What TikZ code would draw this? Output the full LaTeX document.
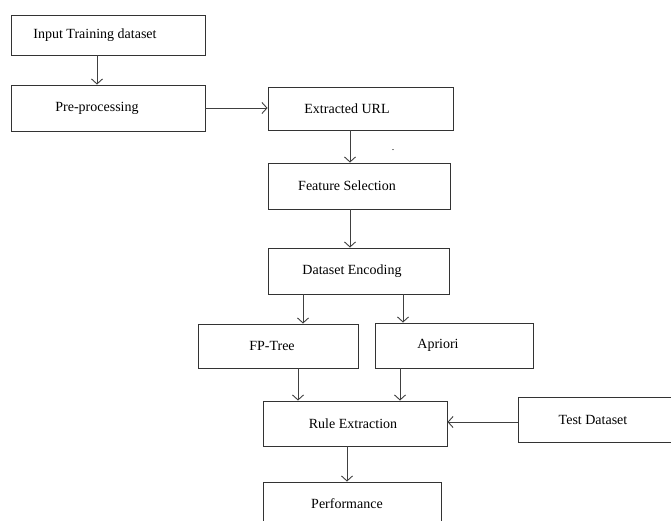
\documentclass[tikz,border=0pt]{standalone}
\usepackage{fontspec}
\setmainfont{Liberation Serif}
\usetikzlibrary{arrows.meta}
\tikzset{
  blk/.style={draw=black!80, line width=0.9pt, inner sep=0pt, font=\fontsize{14}{16}\selectfont},
  arr/.style={draw=black!75, line width=0.9pt, -{Straight Barb[length=5pt,width=11pt]}}
}
% text set a little left of the box centre
\newcommand{\lft}[2]{#2\hspace*{#1}}

\begin{document}
\begin{tikzpicture}[x=1pt,y=-1pt]
    \clip (0,0) rectangle (671,520);
    \fill[white] (0,0) rectangle (671,520);
    %boxes
    \node[blk, minimum width=194pt, minimum height=40pt] (input) at (108,35) {\lft{26pt}{Input Training dataset}};
    \node[blk, minimum width=194pt, minimum height=46pt] (pre) at (108,108) {\lft{22pt}{Pre-processing}};
    \node[blk, minimum width=185pt, minimum height=43pt] (url) at (360.5,108.5) {\lft{27pt}{Extracted URL}};
    \node[blk, minimum width=182pt, minimum height=46pt] (feat) at (359,186) {\lft{24pt}{Feature Selection}};
    \node[blk, minimum width=181pt, minimum height=46pt] (enc) at (358.5,271) {\lft{13pt}{Dataset Encoding}};
    \node[blk, minimum width=160pt, minimum height=44pt] (fp) at (278,346) {\lft{12pt}{FP-Tree}};
    \node[blk, minimum width=158pt, minimum height=45pt] (apr) at (454,345.5) {\lft{32pt}{Apriori}};
    \node[blk, minimum width=184pt, minimum height=45pt] (rule) at (355,423.5) {\lft{4pt}{Rule Extraction}};
    \node[blk, minimum width=162pt, minimum height=45pt] (test) at (599,419.5) {\lft{12pt}{Test Dataset}};
    \node[blk, minimum width=178pt, minimum height=44pt] (perf) at (352,504) {\lft{10pt}{Performance}};
    \node[font=\fontsize{10}{12}\selectfont, inner sep=0pt] (dot) at (393,150) {.};
    %arrows
    \draw[arr] ([xshift=-11pt]input.south) -- ([xshift=-11pt]pre.north);
    \draw[arr] (pre.east) -- (pre.east -| url.west);
    \draw[arr] ([xshift=-10.5pt]url.south) -- ([xshift=-10.5pt]url.south |- feat.north);
    \draw[arr] ([xshift=-9pt]feat.south) -- ([xshift=-9pt]feat.south |- enc.north);
    \draw[arr] ([xshift=-55.5pt]enc.south) -- ([xshift=-55.5pt]enc.south |- fp.north);
    \draw[arr] ([xshift=44.5pt]enc.south) -- ([xshift=44.5pt]enc.south |- apr.north);
    \draw[arr] ([xshift=20pt]fp.south) -- ([xshift=20pt]fp.south |- rule.north);
    \draw[arr] ([xshift=-54pt]apr.south) -- ([xshift=-54pt]apr.south |- rule.north);
    \draw[arr] ([yshift=-2.5pt]test.west) -- ([yshift=-2.5pt]test.west -| rule.east);
    \draw[arr] ([xshift=-8pt]rule.south) -- ([xshift=-8pt]rule.south |- perf.north);
\end{tikzpicture}
\end{document}
